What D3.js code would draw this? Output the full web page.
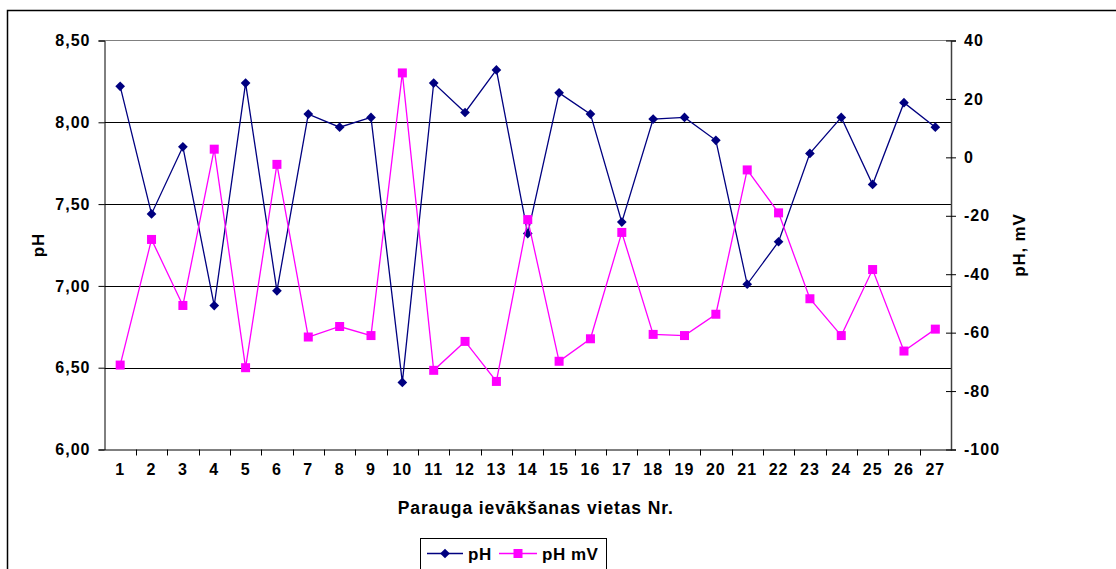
<!DOCTYPE html>
<html>
<head>
<meta charset="utf-8">
<script src="https://cdn.jsdelivr.net/npm/d3@7"></script>
<style>
  html, body { margin: 0; padding: 0; background: #fff; }
  svg { display: block; }
  text { font-family: "Liberation Sans", Arial, sans-serif; font-weight: bold; fill: #000; }
</style>
</head>
<body>
<svg id="chart" width="1116" height="569"></svg>
<script>
// Sampling site numbers
const sites = d3.range(1, 28).map(String);
// pH values per site
const phValues = [8.22, 7.44, 7.85, 6.88, 8.24, 6.97, 8.05, 7.97, 8.03, 6.41, 8.24, 8.06, 8.32, 7.32, 8.18, 8.05, 7.39, 8.02, 8.03, 7.89, 7.01, 7.27, 7.81, 8.03, 7.62, 8.12, 7.97];
// Electrode potential, mV
const mvValues = [-71.1, -28.1, -50.7, 2.8, -72.0, -2.4, -61.5, -57.9, -61.0, 28.9, -72.9, -63.0, -76.7, -21.3, -69.8, -62.1, -25.7, -60.6, -61.0, -53.7, -4.3, -19.0, -48.4, -61.0, -38.4, -66.3, -58.8];
// Axis ticks
const phTicks = [6.0, 6.5, 7.0, 7.5, 8.0, 8.5];
const mvTicks = [-100, -80, -60, -40, -20, 0, 20, 40];

const svg = d3.select("#chart");
const plot = { left: 104.5, right: 951, top: 40.5, bottom: 449.5 };

const x = d3.scaleBand().domain(sites).range([plot.left, plot.right]);
const yPh = d3.scaleLinear().domain([6, 8.5]).range([plot.bottom, plot.top]);
const yMv = d3.scaleLinear().domain([-100, 40]).range([plot.bottom, plot.top]);
const fmtPh = v => d3.format(".2f")(v).replace(".", ",");
const fmtMv = v => String(v);

const styleTicks = sel => sel.selectAll("text")
  .attr("font-size", 16).attr("font-family", null).attr("letter-spacing", 1);

// Chart frame
svg.append("rect")
  .attr("x", 7.5).attr("y", 10.5).attr("width", 1200).attr("height", 700)
  .attr("fill", "none").attr("stroke", "#000").attr("stroke-width", 1.5);

// Horizontal gridlines on the pH scale
svg.append("g").selectAll("line")
  .data(phTicks.filter(t => t > 6 && t < 8.5))
  .join("line")
  .attr("x1", plot.left).attr("x2", plot.right)
  .attr("y1", d => Math.round(yPh(d)) + 0.5).attr("y2", d => Math.round(yPh(d)) + 0.5)
  .attr("stroke", "#000").attr("stroke-width", 1);
// Plot area top edge
svg.append("line")
  .attr("x1", plot.left).attr("x2", plot.right)
  .attr("y1", plot.top).attr("y2", plot.top)
  .attr("stroke", "#808080").attr("stroke-width", 1.2);

// Left axis (pH)
const leftAxis = svg.append("g")
  .attr("transform", `translate(${plot.left},0)`)
  .call(d3.axisLeft(yPh).tickValues(phTicks).tickFormat(fmtPh).tickSizeOuter(0).tickSize(6).tickPadding(8));
leftAxis.select(".domain").attr("stroke", "#000");
leftAxis.selectAll(".tick line").attr("stroke", "#000");
styleTicks(leftAxis);

// Right axis (mV) with crossing ticks
const rightAxis = svg.append("g")
  .attr("transform", `translate(${plot.right},0)`)
  .call(d3.axisRight(yMv).tickValues(mvTicks).tickFormat(fmtMv).tickSizeOuter(0).tickSize(5).tickPadding(8));
rightAxis.select(".domain").attr("stroke", "#404040").attr("stroke-width", 1.5);
rightAxis.selectAll(".tick line").attr("x1", -5).attr("stroke", "#000");
styleTicks(rightAxis);

// Category axis with ticks between categories
const bottomAxis = svg.append("g")
  .attr("transform", `translate(0,${plot.bottom})`)
  .call(d3.axisBottom(x).tickSize(0).tickPadding(14));
bottomAxis.select(".domain").attr("stroke", "#000");
styleTicks(bottomAxis);
bottomAxis.append("g").selectAll("line")
  .data(sites.slice(1))
  .join("line")
  .attr("x1", d => Math.round(x(d)) + 0.5).attr("x2", d => Math.round(x(d)) + 0.5)
  .attr("y1", 0).attr("y2", 6)
  .attr("stroke", "#000");

// Axis titles
svg.append("text")
  .attr("x", (plot.left + plot.right) / 2 + 8).attr("y", 514)
  .attr("text-anchor", "middle").attr("font-size", 17.5).attr("letter-spacing", 0.9)
  .text("Parauga ievākšanas vietas Nr.");
svg.append("text")
  .attr("transform", `translate(44,${(plot.top + plot.bottom) / 2}) rotate(-90)`)
  .attr("text-anchor", "middle").attr("font-size", 17).attr("letter-spacing", 0.8)
  .text("pH");
svg.append("text")
  .attr("transform", `translate(1025,${(plot.top + plot.bottom) / 2}) rotate(-90)`)
  .attr("text-anchor", "middle").attr("font-size", 17).attr("letter-spacing", 0.8)
  .text("pH, mV");

const cx = d => x(d) + x.bandwidth() / 2;

// pH series
const phColor = "#000080";
svg.append("path")
  .datum(phValues)
  .attr("fill", "none").attr("stroke", phColor).attr("stroke-width", 1.3)
  .attr("d", d3.line().x((d, i) => cx(sites[i])).y(d => yPh(d)));
svg.append("g").selectAll("path")
  .data(phValues)
  .join("path")
  .attr("transform", (d, i) => `translate(${cx(sites[i])},${yPh(d)})`)
  .attr("d", d3.symbol(d3.symbolDiamond2, 60))
  .attr("fill", phColor);

// mV series
const mvColor = "#FF00FF";
svg.append("path")
  .datum(mvValues)
  .attr("fill", "none").attr("stroke", mvColor).attr("stroke-width", 1.3)
  .attr("d", d3.line().x((d, i) => cx(sites[i])).y(d => yMv(d)));
svg.append("g").selectAll("rect")
  .data(mvValues)
  .join("rect")
  .attr("x", (d, i) => cx(sites[i]) - 4.5).attr("y", d => yMv(d) - 4.5)
  .attr("width", 9).attr("height", 9)
  .attr("fill", mvColor);

// Legend
const legend = svg.append("g");
legend.append("rect")
  .attr("x", 420.5).attr("y", 538.5).attr("width", 186).attr("height", 40)
  .attr("fill", "#fff").attr("stroke", "#000").attr("stroke-width", 1);
const ly = 553.5;
legend.append("line").attr("x1", 427).attr("x2", 463).attr("y1", ly).attr("y2", ly)
  .attr("stroke", phColor).attr("stroke-width", 1.3);
legend.append("path").attr("transform", `translate(445,${ly})`)
  .attr("d", d3.symbol(d3.symbolDiamond2, 60)).attr("fill", phColor);
legend.append("text").attr("x", 468).attr("y", ly + 6).attr("font-size", 17).attr("letter-spacing", 0.5).text("pH");
legend.append("line").attr("x1", 499).attr("x2", 537).attr("y1", ly).attr("y2", ly)
  .attr("stroke", mvColor).attr("stroke-width", 1.3);
legend.append("rect").attr("x", 513.5).attr("y", ly - 4.5).attr("width", 9).attr("height", 9)
  .attr("fill", mvColor);
legend.append("text").attr("x", 542).attr("y", ly + 6).attr("font-size", 17).attr("letter-spacing", 0.5).text("pH mV");
</script>
</body>
</html>
